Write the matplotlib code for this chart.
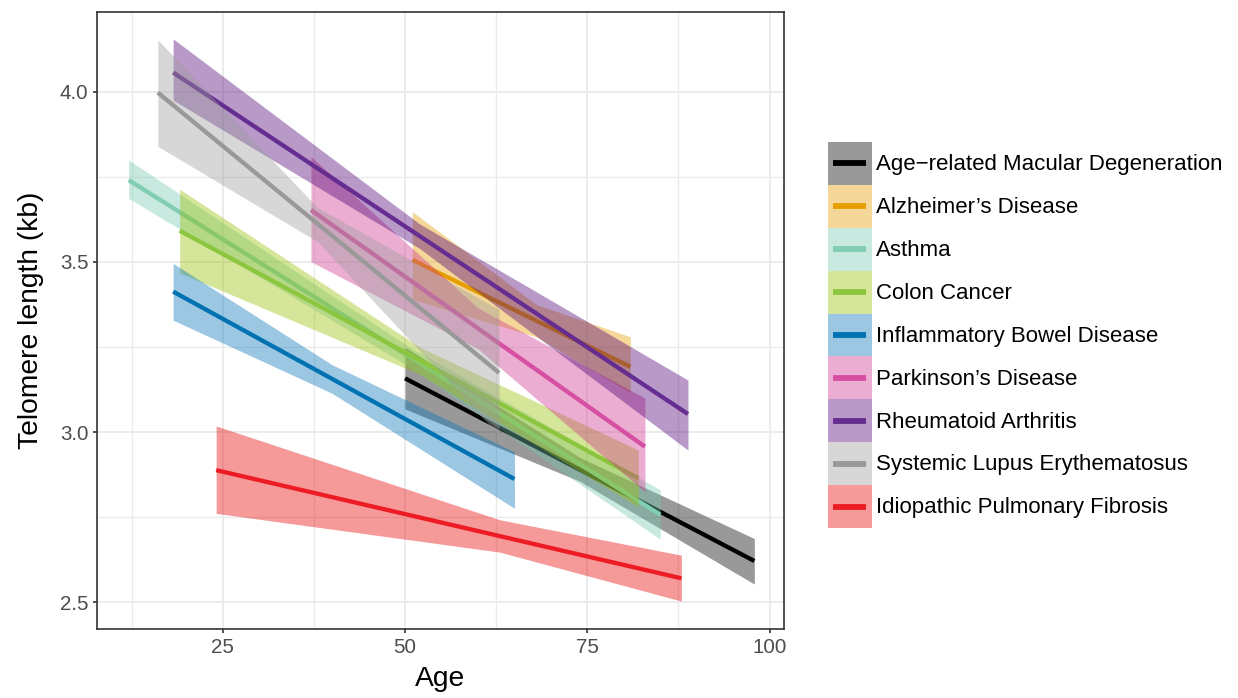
import matplotlib
matplotlib.use("Agg")
import matplotlib.pyplot as plt
from matplotlib.patches import Rectangle
from matplotlib.lines import Line2D
from matplotlib.ticker import MultipleLocator

plt.rcParams['font.family'] = ['Liberation Sans', 'DejaVu Sans']

# disease groups in legend order
diseases = ["Age\u2212related Macular Degeneration", "Alzheimer\u2019s Disease", "Asthma",
            "Colon Cancer", "Inflammatory Bowel Disease", "Parkinson\u2019s Disease",
            "Rheumatoid Arthritis", "Systemic Lupus Erythematosus", "Idiopathic Pulmonary Fibrosis"]
line_colors = ["#000000", "#E69F00", "#80CDB4", "#8CC63F", "#0072B2",
               "#D64FA2", "#662D91", "#999999", "#ED1C24"]
fill_colors = ["#000000", "#E89D00", "#75C8B1", "#98C000", "#0575BB",
               "#CF348C", "#4F0076", "#9D9D9D", "#E60000"]

# fitted line: age range and telomere length at both ends
line_age = [[50.0, 97.9], [51.0, 80.9], [12.1, 85.0], [19.1, 82.0], [18.2, 65.0],
            [37.1, 82.9], [18.2, 88.8], [16.1, 62.9], [24.1, 87.9]]
line_tl = [[3.158, 2.621], [3.506, 3.192], [3.741, 2.757], [3.592, 2.864], [3.413, 2.862],
           [3.653, 2.957], [4.057, 3.053], [3.998, 3.174], [2.888, 2.570]]

# confidence band: start, narrowest point, end
band_age = [[50.0, 74, 97.9], [51.0, 68, 80.9], [12.1, 50, 85.0], [19.1, 52, 82.0], [18.2, 40, 65.0],
            [37.1, 60, 82.9], [18.2, 52, 88.8], [16.1, 38, 62.9], [24.1, 63, 87.9]]
band_lo = [[3.068, 2.855, 2.553], [3.39, 3.28, 3.115], [3.687, 3.20, 2.685], [3.468, 3.17, 2.78],
           [3.329, 3.114, 2.776], [3.501, 3.245, 2.824], [3.976, 3.54, 2.947],
           [3.84, 3.56, 2.99], [2.761, 2.647, 2.503]]
band_hi = [[3.25, 2.925, 2.687], [3.648, 3.375, 3.28], [3.80, 3.258, 2.83], [3.714, 3.25, 2.947],
           [3.496, 3.198, 2.942], [3.81, 3.365, 3.10], [4.156, 3.612, 3.153],
           [4.153, 3.66, 3.36], [3.018, 2.742, 2.638]]

x_ticks = [25, 50, 75, 100]
y_ticks = [2.5, 3.0, 3.5, 4.0]


class Key:
    def __init__(self, fill, line):
        self.fill = fill
        self.line = line


class KeyHandler:
    def legend_artist(self, legend, orig_handle, fontsize, handlebox):
        x0, y0 = -handlebox.xdescent, -handlebox.ydescent
        w, h = handlebox.width, handlebox.height
        tr = handlebox.get_transform()
        box = Rectangle((x0, y0), w, h, facecolor=orig_handle.fill, alpha=0.4,
                        edgecolor='none', transform=tr)
        ln = Line2D([x0 + 0.12 * w, x0 + 0.88 * w], [y0 + h / 2, y0 + h / 2],
                    color=orig_handle.line, lw=4.2, solid_capstyle='butt', transform=tr)
        handlebox.add_artist(box)
        handlebox.add_artist(ln)
        return box


fig = plt.figure(figsize=(12.38, 6.98), dpi=100)
ax = fig.add_axes([97 / 1238, 1 - 629 / 698, (784 - 97) / 1238, (629 - 12) / 698])

for i in range(len(diseases)):
    ax.fill_between(band_age[i], band_lo[i], band_hi[i], color=fill_colors[i],
                    alpha=0.4, lw=0, zorder=3 + 2 * i)
    ax.plot(line_age[i], line_tl[i], color=line_colors[i], lw=3.1,
            solid_capstyle='butt', zorder=4 + 2 * i)

ax.set_xlim(7.76, 101.97)
ax.set_ylim(2.421, 4.235)
ax.set_xticks(x_ticks)
ax.set_yticks(y_ticks)
ax.xaxis.set_minor_locator(MultipleLocator(12.5))
ax.yaxis.set_minor_locator(MultipleLocator(0.25))
ax.grid(which='major', color='#EBEBEB', lw=1.3, zorder=0)
ax.grid(which='minor', color='#EBEBEB', lw=1.0, zorder=0)
ax.set_axisbelow(True)
ax.tick_params(which='major', length=3.2, width=1.2, color='#333333',
               labelcolor='#4D4D4D', labelsize=14.8, pad=3)
ax.tick_params(which='minor', length=0)
for s in ax.spines.values():
    s.set_color('#333333')
    s.set_linewidth(1.2)

ax.set_xlabel("Age", fontsize=20.3, labelpad=7)
ax.set_ylabel("Telomere length (kb)", fontsize=20.3, labelpad=11)

handles = [Key(fill_colors[i], line_colors[i]) for i in range(len(diseases))]
fs = 16.0
key_w_pt = 44 * 72 / 100
key_h_pt = 42.9 * 72 / 100
# legend row height is fs*hh minus the descent matplotlib reserves
hh = (key_h_pt / fs - 0.245) / 0.65
fig.legend(handles, diseases, handler_map={Key: KeyHandler()},
           loc='upper left', bbox_to_anchor=(827.7 / 1238, 1 - 142 / 698),
           bbox_transform=fig.transFigure, frameon=False, fontsize=fs,
           borderpad=0, borderaxespad=0, labelspacing=0,
           handlelength=key_w_pt / fs, handleheight=hh, handletextpad=0.2)

fig.savefig("out.png", dpi=100)
